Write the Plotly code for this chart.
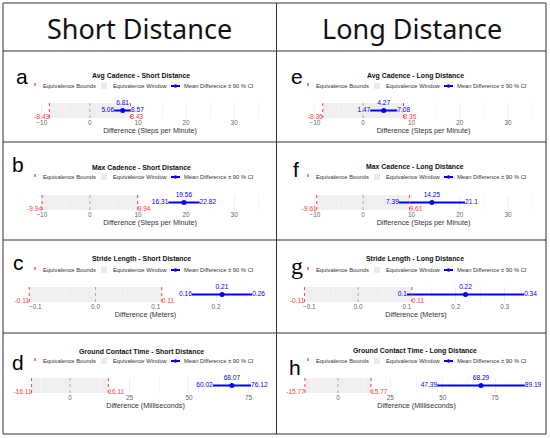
import plotly.graph_objects as go

W, H = 550, 438

HEADERS = ["Short Distance", "Long Distance"]
LETTERS = ["a", "b", "c", "d", "e", "f", "g", "h"]
TITLES = [
    "Avg Cadence - Short Distance",
    "Max Cadence - Short Distance",
    "Stride Length - Short Distance",
    "Ground Contact Time - Short Distance",
    "Avg Cadence - Long Distance",
    "Max Cadence - Long Distance",
    "Stride Length - Long Distance",
    "Ground Contact Time - Long Distance",
]
UNITS = ["Steps per Minute", "Steps per Minute", "Meters", "Milliseconds",
         "Steps per Minute", "Steps per Minute", "Meters", "Milliseconds"]
BOUNDS = [8.43, 9.94, 0.11, 16.11, 8.36, 9.61, 0.11, 15.77]
MEANS = [6.81, 19.56, 0.21, 68.07, 4.27, 14.25, 0.22, 68.29]
CI_LOW = [5.06, 16.31, 0.16, 60.02, 1.47, 7.39, 0.1, 47.39]
CI_HIGH = [8.57, 22.82, 0.26, 76.12, 7.08, 21.1, 0.34, 89.19]
LEGEND_LABELS = ["Equivalence Bounds", "Equivalence Window", "Mean Difference \u00b1 90 % CI"]

# layout in pixels: title y, legend y, plot top, plot bottom (per row)
ROWS = [(76, 86, 103, 118), (167, 177, 195, 210), (259, 270, 287, 302), (351, 361, 378, 393)]
X_PX = [(37, 263), (37, 263), (28, 263), (29, 262),
        (310, 537), (310, 537), (302, 530), (303, 530)]
X_RANGES = [[-11, 36], [-11, 36], [-0.112, 0.278], [-17.2, 80.7],
            [-11, 36], [-11, 36], [-0.115, 0.352], [-16.7, 91.7]]
DTICKS = [10, 10, 0.1, 25, 10, 10, 0.1, 25]
MINOR = [5, 5, 0.05, 12.5, 5, 5, 0.05, 12.5]
LETTER_POS = [(22, 76), (18, 164), (18, 262), (18, 362),
              (297, 76), (296, 169), (297, 266), (295, 367)]

RED = "#ff4040"
BLUE = "#0000ff"
FONT = "Liberation Sans"


def fx(p):
    return p / W


def fy(p):
    return 1 - p / H


fig = go.Figure()
shapes = []
annotations = []

for i in range(8):
    n = "" if i == 0 else str(i + 1)
    xa, ya = "x" + n, "y" + n
    col = i // 4
    title_y, legend_y, top, bottom = ROWS[i % 4]
    b = BOUNDS[i]

    # equivalence window + bounds + zero line
    shapes.append(dict(type="rect", xref=xa, yref=ya + " domain", x0=-b, x1=b, y0=0, y1=1,
                       fillcolor="#efefef", line=dict(width=0), layer="below"))
    for v in (-b, b):
        shapes.append(dict(type="line", xref=xa, yref=ya + " domain", x0=v, x1=v, y0=0, y1=1,
                           line=dict(color=RED, width=1, dash="dot")))
    shapes.append(dict(type="line", xref=xa, yref=ya + " domain", x0=0, x1=0, y0=0, y1=1,
                       line=dict(color="#aaaaaa", width=1, dash="dot")))

    fig.add_trace(go.Scatter(
        x=[-b, b], y=[-0.95, -0.95], mode="text", text=[f"-{b}", f"{b}"],
        textposition=["middle left", "middle right"], textfont=dict(color=RED, size=6.6, family=FONT),
        cliponaxis=False, showlegend=False, hoverinfo="skip", xaxis=xa, yaxis=ya))
    fig.add_trace(go.Scatter(
        x=[CI_LOW[i], CI_HIGH[i]], y=[0, 0], mode="lines+text",
        text=[str(CI_LOW[i]), str(CI_HIGH[i])], textposition=["middle left", "middle right"],
        line=dict(color=BLUE, width=2), textfont=dict(color=BLUE, size=6.6, family=FONT),
        cliponaxis=False, showlegend=False, xaxis=xa, yaxis=ya))
    fig.add_trace(go.Scatter(
        x=[MEANS[i]], y=[0], mode="markers+text", text=[str(MEANS[i])], textposition="top center",
        marker=dict(color=BLUE, size=5), textfont=dict(color=BLUE, size=6.6, family=FONT),
        cliponaxis=False, showlegend=False, xaxis=xa, yaxis=ya))

    x0, x1 = X_PX[i]
    fig.layout["xaxis" + n] = dict(
        domain=[fx(x0), fx(x1)], range=X_RANGES[i], dtick=DTICKS[i], tick0=0, anchor=ya,
        tickformat=".1f" if DTICKS[i] < 1 else None,
        showgrid=True, gridcolor="#efefef", zeroline=False, showline=False, ticks="",
        minor=dict(dtick=MINOR[i], showgrid=True, gridcolor="#f5f5f5"),
        tickfont=dict(size=6.4, color="#666", family=FONT),
        title=dict(text=f"Difference ({UNITS[i]})", font=dict(size=7.2, color="#333", family=FONT), standoff=1),
    )
    fig.layout["yaxis" + n] = dict(
        domain=[fy(bottom), fy(top)], range=[-1, 1], anchor=xa,
        showgrid=False, zeroline=False, showticklabels=False, ticks="",
    )

    # panel title
    annotations.append(dict(text=f"<b>{TITLES[i]}</b>", x=fx(141 + col * 274), y=fy(title_y),
                            xref="paper", yref="paper", showarrow=False, xanchor="center", yanchor="middle",
                            font=dict(size=6.9, color="#111", family=FONT)))
    # panel letter
    lx, ly = LETTER_POS[i]
    annotations.append(dict(text=LETTERS[i], x=fx(lx), y=fy(ly), xref="paper", yref="paper",
                            showarrow=False, xanchor="center", yanchor="middle",
                            font=dict(size=24 if LETTERS[i] == "g" else 21, color="#000",
                                      family="Liberation Serif" if LETTERS[i] == "g" else FONT)))
    # legend
    s = 35 + col * 273
    shapes.append(dict(type="line", xref="paper", yref="paper", x0=fx(s), x1=fx(s),
                       y0=fy(legend_y - 3), y1=fy(legend_y + 3), line=dict(color=RED, width=1.3, dash="dot")))
    shapes.append(dict(type="rect", xref="paper", yref="paper", x0=fx(s + 66), x1=fx(s + 72),
                       y0=fy(legend_y - 3), y1=fy(legend_y + 3), fillcolor="#eaeaea", line=dict(width=0)))
    shapes.append(dict(type="line", xref="paper", yref="paper", x0=fx(s + 136), x1=fx(s + 145),
                       y0=fy(legend_y), y1=fy(legend_y), line=dict(color=BLUE, width=2)))
    shapes.append(dict(type="circle", xref="paper", yref="paper", x0=fx(s + 138.8), x1=fx(s + 142.2),
                       y0=fy(legend_y - 1.7), y1=fy(legend_y + 1.7), fillcolor=BLUE, line=dict(width=0)))
    for label, off in zip(LEGEND_LABELS, (6, 76, 147)):
        annotations.append(dict(text=label, x=fx(s + off), y=fy(legend_y), xref="paper", yref="paper",
                                showarrow=False, xanchor="left", yanchor="middle",
                                font=dict(size=5.8, color="#333", family=FONT)))

# headers
for j, h in enumerate(HEADERS):
    annotations.append(dict(text=h, x=fx(140 + j * 272), y=fy(28), xref="paper", yref="paper",
                            showarrow=False, xanchor="center", yanchor="middle",
                            font=dict(size=27, color="#111", family="Noto Sans")))

# table borders
border = dict(color="#333", width=1)
shapes.append(dict(type="rect", xref="paper", yref="paper", x0=fx(3), x1=fx(546), y0=fy(434), y1=fy(3),
                   line=border))
shapes.append(dict(type="line", xref="paper", yref="paper", x0=fx(276.5), x1=fx(276.5), y0=fy(434), y1=fy(3),
                   line=border))
for yy in (51, 142, 240, 333):
    shapes.append(dict(type="line", xref="paper", yref="paper", x0=fx(3), x1=fx(546), y0=fy(yy), y1=fy(yy),
                       line=border))

fig.update_layout(
    width=W, height=H, margin=dict(l=0, r=0, t=0, b=0),
    paper_bgcolor="white", plot_bgcolor="white",
    shapes=shapes, annotations=annotations, showlegend=False,
    font=dict(family=FONT),
)

# drop the default page margin so the figure sits at the window's top-left corner
fig.write_html("out.html", config={"displayModeBar": False},
               post_script="document.body.style.margin = '0';")
